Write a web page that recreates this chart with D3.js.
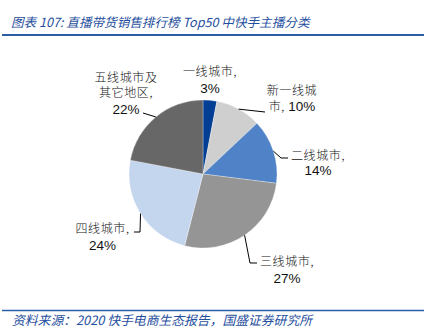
<!DOCTYPE html>
<html><head><meta charset="utf-8">
<script src="https://cdn.jsdelivr.net/npm/d3@7/dist/d3.min.js"></script>
<style>body{margin:0;background:#fff}svg{display:block}</style>
</head><body><svg id="c" width="426" height="335"></svg>
<script>
const categories = ["一线城市", "新一线城市", "二线城市", "三线城市", "四线城市", "五线城市及其它地区"];
const values = [3, 10, 14, 27, 24, 22];
const colors = ["#023f94", "#cfcfcf", "#4f82c6", "#959595", "#c4d5ee", "#676767"];
// label text lines (category part, percent part)
const labelLines = [
  [["一线城市,"], ["3%"]],
  [["新一线城"], ["市, ", "10%"]],
  [["二线城市,"], ["14%"]],
  [["三线城市,"], ["27%"]],
  [["四线城市,"], ["24%"]],
  [["五线城市及"], ["其它地区,"], ["22%"]]
];
// layout: label centre x, first baseline y, leader path points (after arc point)
const layout = [
  {x: 210, y: 75.5, dy: [0, 17.5], leader: null},
  {x: 292, y: 94.5, dy: [0, 16.5], leader: [[265, 112]]},
  {x: 318, y: 159.5, dy: [0, 15], leader: [[281, 158], [288, 158]]},
  {x: 287, y: 265.5, dy: [0, 17.5], leader: [[250, 263], [257, 263]]},
  {x: 102.5, y: 232.5, dy: [0, 17.5], leader: [[140, 232], [134, 232]]},
  {x: 126, y: 81.5, dy: [0, 15.5, 17], leader: [[143, 113]]}
];

const svg = d3.select("#c");
const cx = 203, cy = 174, r = 74;

// title
svg.append("text").attr("x", 11).attr("y", 27)
  .attr("font-family", "'Noto Sans CJK SC', sans-serif").attr("font-size", 12.6)
  .attr("font-style", "italic").attr("fill", "#1f4f9e")
  .text("图表 107:  直播带货销售排行榜 Top50 中快手主播分类");
svg.append("line").attr("x1", 2).attr("x2", 424).attr("y1", 35).attr("y2", 35)
  .attr("stroke", "#2c5ea8").attr("stroke-width", 2);

// source
svg.append("line").attr("x1", 2).attr("x2", 424).attr("y1", 310.5).attr("y2", 310.5)
  .attr("stroke", "#2c5ea8").attr("stroke-width", 1.5);
svg.append("text").attr("x", 12).attr("y", 325)
  .attr("font-family", "'Noto Sans CJK SC', sans-serif").attr("font-size", 12.8)
  .attr("font-style", "italic").attr("fill", "#1f4f9e")
  .text("资料来源：2020 快手电商生态报告，国盛证券研究所");

const pie = d3.pie().value(d => d).sort(null);
const arcs = pie(values);
const arc = d3.arc().innerRadius(0).outerRadius(r);
const g = svg.append("g").attr("transform", `translate(${cx},${cy})`);
g.selectAll("path").data(arcs).join("path")
  .attr("d", arc).attr("fill", (d, i) => colors[i])
  .attr("stroke", "#fff").attr("stroke-width", 0.3);

// leaders
arcs.forEach((a, i) => {
  const L = layout[i];
  if (!L.leader) return;
  const m = (a.startAngle + a.endAngle) / 2;
  const pts = [[cx + r * Math.sin(m), cy - r * Math.cos(m)], ...L.leader];
  svg.append("path").attr("d", d3.line()(pts))
    .attr("fill", "none").attr("stroke", "#000").attr("stroke-width", 1);
});

// labels
labelLines.forEach((lines, i) => {
  const L = layout[i];
  let y = L.y;
  lines.forEach((parts, j) => {
    if (j > 0) y += L.dy[j];
    const t = svg.append("text").attr("x", L.x).attr("y", y)
      .attr("text-anchor", "middle").attr("fill", "#111");
    parts.forEach(p => {
      const isPct = /%$/.test(p);
      t.append("tspan").text(p)
        .attr("font-family", isPct ? "'Liberation Sans', Arial, sans-serif" : "'Noto Sans CJK SC', sans-serif")
        .attr("font-size", isPct ? 13.5 : 12)
        .attr("font-weight", isPct ? "normal" : 300)
        .attr("letter-spacing", isPct ? 0 : 0.6);
    });
  });
});
</script></body></html>
